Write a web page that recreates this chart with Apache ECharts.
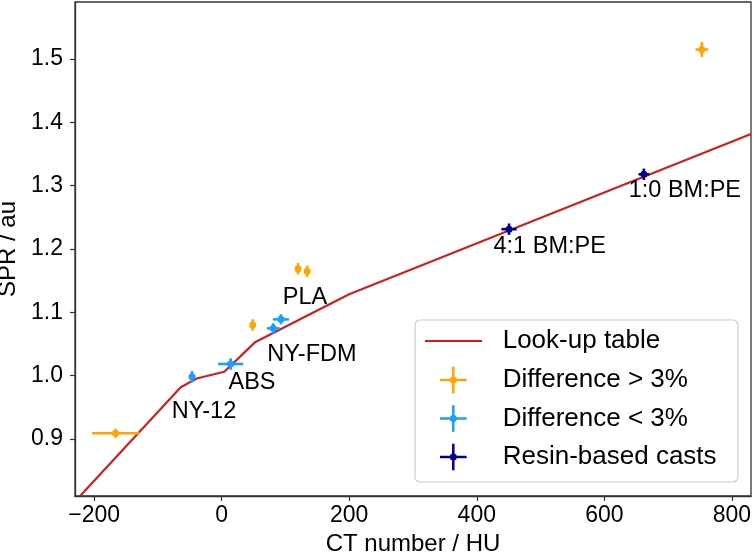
<!DOCTYPE html>
<html>
<head>
<meta charset="utf-8">
<script src="https://cdn.jsdelivr.net/npm/echarts@6/dist/echarts.min.js"></script>
<style>
html,body{margin:0;padding:0;background:#fff;}
#c{width:754px;height:555px;}
</style>
</head>
<body>
<div id="c"></div>
<script>
// ---- data ----
// look-up table (CT number HU, SPR)
const lutHU  = [-222, -64.2, -39.2, 4.1, 52.2, 199.9, 830];
const lutSPR = [0.810, 0.9816, 0.9955, 1.0062, 1.0526, 1.1285, 1.3815];
// Difference > 3% : x, y, xerr, yerr
const bigX    = [-166.4, 48.6, 119.7, 134.1, 753];
const bigY    = [0.9090, 1.0800, 1.1688, 1.1648, 1.5150];
const bigXerr = [37, 2.5, 4, 4, 10];
const bigYerr = [0.007, 0.009, 0.009, 0.009, 0.012];
// Difference < 3%
const smallX    = [-46.5, 14.1, 80.8, 92.9];
const smallY    = [0.9983, 1.0184, 1.0747, 1.0889];
const smallXerr = [2, 19.7, 10, 12.6];
const smallYerr = [0.009, 0.009, 0.008, 0.008];
// Resin-based casts
const resinX    = [450.6, 662];
const resinY    = [1.2313, 1.318];
const resinXerr = [12, 8.4];
const resinYerr = [0.009, 0.009];
// annotations (text centre in data coords)
const annText = ['NY-12', 'ABS', 'NY-FDM', 'PLA', '4:1 BM:PE', '1:0 BM:PE'];
const annX    = [-27.7, 47.5, 141.5, 130.6, 514.3, 726.3];
const annY    = [0.9436, 0.9888, 1.033, 1.1229, 1.204, 1.2929];
// axes
const xTicks = [-200, 0, 200, 400, 600, 800];
const yTicks = [0.9, 1.0, 1.1, 1.2, 1.3, 1.4, 1.5];
const seriesNames = ['Look-up table', 'Difference > 3%', 'Difference < 3%', 'Resin-based casts'];
const colors = ['#cc2020', '#ffa500', '#1a9fff', '#00008b'];

// ---- build ----
const FONT = "'Liberation Sans', Arial, sans-serif";
function zip4(a, b, c, d) { return a.map((v, i) => [v, b[i], c[i], d[i]]); }

function errRender(color) {
  return function (params, api) {
    const x = api.value(0), y = api.value(1), xe = api.value(2), ye = api.value(3);
    const c = api.coord([x, y]);
    const l = api.coord([x - xe, y]), r = api.coord([x + xe, y]);
    const t = api.coord([x, y + ye]), b = api.coord([x, y - ye]);
    const st = { stroke: color, lineWidth: 2.6 };
    return {
      type: 'group',
      children: [
        { type: 'line', shape: { x1: l[0], y1: l[1], x2: r[0], y2: r[1] }, style: st },
        { type: 'line', shape: { x1: t[0], y1: t[1], x2: b[0], y2: b[1] }, style: st },
        { type: 'circle', shape: { cx: c[0], cy: c[1], r: 3.5 }, style: { fill: color } }
      ]
    };
  };
}

const chart = echarts.init(document.getElementById('c'), null, { renderer: 'canvas' });

// legend (drawn as graphic, matplotlib-like)
const lgX = 415, lgY = 320, lgW = 323, lgH = 162;
const rowY = [341, 380, 418.5, 457];
const legendChildren = [
  { type: 'rect', shape: { x: lgX, y: lgY, width: lgW, height: lgH, r: 5 },
    style: { fill: 'rgba(255,255,255,0.85)', stroke: '#cccccc', lineWidth: 1.2 } },
  { type: 'line', shape: { x1: 425, y1: rowY[0], x2: 482, y2: rowY[0] },
    style: { stroke: colors[0], lineWidth: 2.2 } }
];
for (let i = 1; i < 4; i++) {
  const cx = 453.3, cy = rowY[i], h = 13.3;
  legendChildren.push(
    { type: 'line', shape: { x1: cx - h, y1: cy, x2: cx + h, y2: cy }, style: { stroke: colors[i], lineWidth: 2.5 } },
    { type: 'line', shape: { x1: cx, y1: cy - h, x2: cx, y2: cy + h }, style: { stroke: colors[i], lineWidth: 2.5 } },
    { type: 'circle', shape: { cx: cx, cy: cy, r: 3.5 }, style: { fill: colors[i] } }
  );
}
for (let i = 0; i < 4; i++) {
  legendChildren.push({ type: 'text', x: 502.7, y: rowY[i],
    style: { text: seriesNames[i], fontSize: 26, fontFamily: FONT, fill: '#000', verticalAlign: 'middle', align: 'left' } });
}

const option = {
  animation: false,
  backgroundColor: '#fff',
  grid: { left: 75, right: 3, top: 2, bottom: 59, containLabel: false, outerBoundsMode: 'none',
    show: true, borderColor: '#333', borderWidth: 1.3, backgroundColor: 'transparent' },
  xAxis: {
    type: 'value', min: -230, max: 830,
    name: 'CT number / HU', nameLocation: 'middle', nameGap: 35,
    nameTextStyle: { fontSize: 24, fontFamily: FONT, color: '#000' },
    axisLine: { show: true, onZero: false, lineStyle: { color: '#333', width: 1.3 } },
    axisTick: { show: true, inside: false, length: 5, lineStyle: { color: '#333', width: 1.2 }, customValues: xTicks },
    axisLabel: { fontSize: 23, fontFamily: FONT, color: '#000', margin: 8, customValues: xTicks,
      formatter: v => (v < 0 ? '\u2212' + Math.abs(v) : String(v)) },
    splitLine: { show: false }
  },
  yAxis: {
    type: 'value', min: 0.81, max: 1.59,
    name: 'SPR / au', nameLocation: 'middle', nameGap: 51,
    nameTextStyle: { fontSize: 24, fontFamily: FONT, color: '#000' },
    axisLine: { show: true, onZero: false, lineStyle: { color: '#333', width: 1.3 } },
    axisTick: { show: true, inside: false, length: 5, lineStyle: { color: '#333', width: 1.2 }, customValues: yTicks },
    axisLabel: { fontSize: 23, fontFamily: FONT, color: '#000', margin: 12, customValues: yTicks,
      formatter: v => Number(v).toFixed(1) },
    splitLine: { show: false }
  },
  graphic: [{ type: 'group', z: 100, children: legendChildren }],
  series: [
    { name: seriesNames[0], type: 'line', data: lutHU.map((v, i) => [v, lutSPR[i]]),
      showSymbol: false, symbol: 'none', lineStyle: { color: colors[0], width: 2.2 }, clip: true, z: 2, silent: true },
    { name: seriesNames[1], type: 'custom', data: zip4(bigX, bigY, bigXerr, bigYerr),
      encode: { x: 0, y: 1 }, renderItem: errRender(colors[1]), z: 3, silent: true },
    { name: seriesNames[2], type: 'custom', data: zip4(smallX, smallY, smallXerr, smallYerr),
      encode: { x: 0, y: 1 }, renderItem: errRender(colors[2]), z: 3, silent: true },
    { name: seriesNames[3], type: 'custom', data: zip4(resinX, resinY, resinXerr, resinYerr),
      encode: { x: 0, y: 1 }, renderItem: errRender(colors[3]), z: 3, silent: true },
    { name: 'annotations', type: 'custom', silent: true, z: 4,
      data: annX.map((v, i) => [v, annY[i], i]),
      encode: { x: 0, y: 1 },
      renderItem: function (params, api) {
        const p = api.coord([api.value(0), api.value(1)]);
        return { type: 'text', x: p[0], y: p[1],
          style: { text: annText[api.value(2)], fill: '#000', fontSize: 23.5, fontFamily: FONT,
            align: 'center', verticalAlign: 'middle' } };
      } }
  ]
};
chart.setOption(option);
</script>
</body>
</html>
